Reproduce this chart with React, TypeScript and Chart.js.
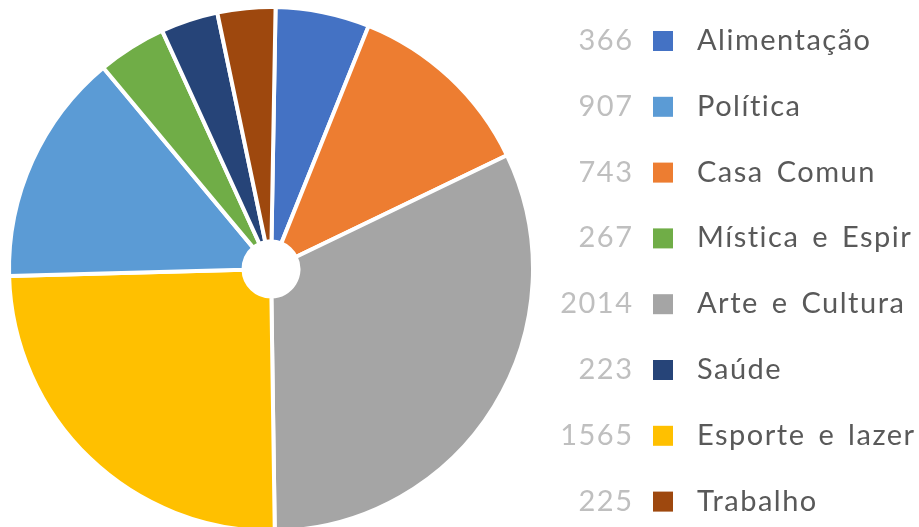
import { useEffect, useRef } from "react";
import { Chart, registerables } from "chart.js";
Chart.register(...registerables);

const categories = ["Alimentação", "Casa Comun", "Arte e Cultura", "Esporte e lazer", "Política", "Mística e Espir", "Saúde", "Trabalho"];
const values = [366, 743, 2014, 1565, 907, 267, 223, 225];
const colors = ["#4472C4", "#ED7D31", "#A5A5A5", "#FFC000", "#5B9BD5", "#70AD47", "#264478", "#9E480E"];
const legendOrder = ["Alimentação", "Política", "Casa Comun", "Mística e Espir", "Arte e Cultura", "Saúde", "Esporte e lazer", "Trabalho"];

export default function App() {
  const ref = useRef<HTMLCanvasElement>(null);
  useEffect(() => {
    document.body.style.margin = "0";
    const sideLegend = {
      id: "sideLegend",
      afterDraw(chart: any) {
        const ctx = chart.ctx as any;
        ctx.save();
        ctx.font = "29px Lato, 'Open Sans', sans-serif";
        ctx.letterSpacing = "1.5px";
        ctx.wordSpacing = "4px";
        legendOrder.forEach((name, i) => {
          const idx = chart.data.labels.indexOf(name);
          const val = chart.data.datasets[0].data[idx];
          const col = chart.data.datasets[0].backgroundColor[idx];
          const cy = 41 + i * 65.8;
          ctx.textBaseline = "alphabetic";
          ctx.textAlign = "right";
          ctx.fillStyle = "#BFBFBF";
          ctx.fillText(String(val), 633.5, cy + 9);
          ctx.fillStyle = col;
          ctx.fillRect(653, cy - 10, 20, 20);
          ctx.textAlign = "left";
          ctx.fillStyle = "#595959";
          ctx.fillText(name, 697, cy + 9);
        });
        ctx.restore();
      },
    };
    const chart = new Chart(ref.current as HTMLCanvasElement, {
      type: "doughnut",
      data: {
        labels: categories,
        datasets: [{ data: values, backgroundColor: colors, borderColor: "#ffffff", borderWidth: 4 }],
      },
      options: {
        responsive: false,
        animation: false,
        rotation: 1,
        cutout: "10.5%",
        radius: 262,
        layout: { padding: { left: 0, right: 377, top: 11, bottom: 0 } },
        plugins: { legend: { display: false }, tooltip: { enabled: false } },
      },
      plugins: [sideLegend],
    } as any);
    return () => chart.destroy();
  }, []);
  return (
    <div style={{ position: "fixed", left: 0, top: 0, width: 919, height: 527, background: "#fff" }}>
      <canvas ref={ref} width={919} height={527} style={{ width: 919, height: 527 }} />
    </div>
  );
}
